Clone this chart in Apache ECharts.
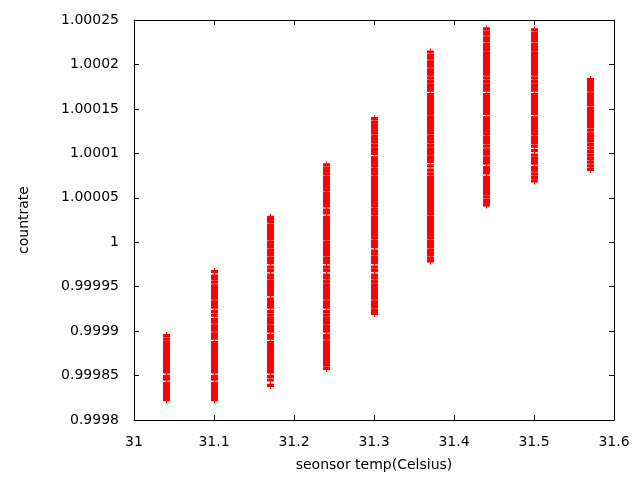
<!DOCTYPE html>
<html>
<head>
<meta charset="utf-8">
<script src="https://cdn.jsdelivr.net/npm/echarts@6/dist/echarts.min.js"></script>
<style>html,body{margin:0;padding:0;background:#fff}#c{width:640px;height:480px}</style>
</head>
<body>
<div id="c"></div>
<script>
// sensor temperatures (x positions of each column)
const temps = [31.04, 31.1, 31.17, 31.24, 31.3, 31.37, 31.44, 31.5, 31.57];

// countrate readings at each temperature
const rate3104 = [0.999823, 0.999826, 0.999829, 0.999832, 0.999835, 0.999838, 0.999841, 0.999846, 0.999849, 0.999854, 0.999857, 0.999860, 0.999863, 0.999866, 0.999869, 0.999872, 0.999875, 0.999878, 0.999881, 0.999884, 0.999887, 0.999891, 0.999895];
const rate3110 = [0.999823, 0.999826, 0.999829, 0.999832, 0.999835, 0.999838, 0.999841, 0.999846, 0.999849, 0.999854, 0.999857, 0.999860, 0.999863, 0.999866, 0.999869, 0.999872, 0.999875, 0.999878, 0.999881, 0.999884, 0.999887, 0.999892, 0.999895, 0.999897, 0.999901, 0.999904, 0.999906, 0.999910, 0.999913, 0.999918, 0.999922, 0.999927, 0.999930, 0.999933, 0.999937, 0.999940, 0.999943, 0.999946, 0.999949, 0.999951, 0.999955, 0.999959, 0.999962, 0.999967];
const rate3117 = [0.999839, 0.999845, 0.999849, 0.999854, 0.999857, 0.999860, 0.999863, 0.999866, 0.999869, 0.999872, 0.999875, 0.999878, 0.999881, 0.999884, 0.999887, 0.999892, 0.999895, 0.999900, 0.999903, 0.999905, 0.999909, 0.999911, 0.999914, 0.999918, 0.999922, 0.999927, 0.999930, 0.999933, 0.999936, 0.999941, 0.999944, 0.999947, 0.999950, 0.999953, 0.999956, 0.999960, 0.999963, 0.999968, 0.999972, 0.999977, 0.999980, 0.999982, 0.999986, 0.999989, 0.999991, 0.999995, 0.999998, 1.000000, 1.000004, 1.000007, 1.000010, 1.000013, 1.000016, 1.000019, 1.000023, 1.000025, 1.000028];
const rate3124 = [0.999858, 0.999862, 0.999865, 0.999868, 0.999871, 0.999874, 0.999877, 0.999880, 0.999883, 0.999886, 0.999888, 0.999892, 0.999895, 0.999900, 0.999903, 0.999905, 0.999909, 0.999911, 0.999914, 0.999918, 0.999922, 0.999927, 0.999930, 0.999933, 0.999937, 0.999940, 0.999943, 0.999946, 0.999949, 0.999952, 0.999956, 0.999960, 0.999963, 0.999968, 0.999972, 0.999977, 0.999980, 0.999982, 0.999986, 0.999989, 0.999992, 0.999995, 0.999998, 1.000000, 1.000004, 1.000007, 1.000010, 1.000013, 1.000016, 1.000019, 1.000022, 1.000025, 1.000028, 1.000033, 1.000036, 1.000041, 1.000044, 1.000047, 1.000050, 1.000053, 1.000055, 1.000059, 1.000062, 1.000065, 1.000068, 1.000071, 1.000073, 1.000077, 1.000080, 1.000083, 1.000087];
const rate3130 = [0.999920, 0.999923, 0.999927, 0.999930, 0.999933, 0.999937, 0.999940, 0.999943, 0.999946, 0.999949, 0.999952, 0.999956, 0.999960, 0.999963, 0.999968, 0.999972, 0.999977, 0.999980, 0.999983, 0.999987, 0.999990, 0.999995, 0.999998, 1.000001, 1.000005, 1.000008, 1.000011, 1.000014, 1.000017, 1.000020, 1.000023, 1.000026, 1.000028, 1.000032, 1.000035, 1.000037, 1.000041, 1.000044, 1.000047, 1.000050, 1.000053, 1.000056, 1.000059, 1.000062, 1.000065, 1.000068, 1.000071, 1.000073, 1.000077, 1.000080, 1.000082, 1.000086, 1.000089, 1.000092, 1.000095, 1.000100, 1.000103, 1.000105, 1.000109, 1.000113, 1.000116, 1.000119, 1.000123, 1.000126, 1.000129, 1.000132, 1.000135, 1.000139];
const rate3137 = [0.999979, 0.999982, 0.999986, 0.999989, 0.999991, 0.999995, 0.999998, 1.000001, 1.000005, 1.000008, 1.000011, 1.000014, 1.000017, 1.000020, 1.000023, 1.000026, 1.000028, 1.000032, 1.000035, 1.000038, 1.000041, 1.000044, 1.000047, 1.000050, 1.000053, 1.000056, 1.000059, 1.000062, 1.000065, 1.000068, 1.000071, 1.000073, 1.000077, 1.000081, 1.000086, 1.000091, 1.000094, 1.000096, 1.000100, 1.000103, 1.000105, 1.000109, 1.000113, 1.000116, 1.000119, 1.000123, 1.000126, 1.000129, 1.000132, 1.000135, 1.000138, 1.000141, 1.000145, 1.000148, 1.000151, 1.000154, 1.000157, 1.000160, 1.000163, 1.000166, 1.000171, 1.000174, 1.000177, 1.000181, 1.000185, 1.000189, 1.000192, 1.000194, 1.000198, 1.000201, 1.000203, 1.000207, 1.000210, 1.000214];
const rate3144 = [1.000042, 1.000045, 1.000047, 1.000051, 1.000055, 1.000058, 1.000061, 1.000064, 1.000067, 1.000070, 1.000073, 1.000078, 1.000081, 1.000084, 1.000089, 1.000092, 1.000095, 1.000099, 1.000102, 1.000104, 1.000108, 1.000112, 1.000115, 1.000118, 1.000122, 1.000125, 1.000128, 1.000131, 1.000134, 1.000137, 1.000140, 1.000145, 1.000148, 1.000151, 1.000154, 1.000157, 1.000160, 1.000163, 1.000166, 1.000171, 1.000174, 1.000177, 1.000181, 1.000185, 1.000189, 1.000192, 1.000195, 1.000198, 1.000201, 1.000204, 1.000207, 1.000210, 1.000213, 1.000217, 1.000220, 1.000223, 1.000227, 1.000230, 1.000234, 1.000236, 1.000240];
const rate3150 = [1.000069, 1.000073, 1.000077, 1.000081, 1.000084, 1.000089, 1.000092, 1.000094, 1.000098, 1.000103, 1.000108, 1.000112, 1.000115, 1.000118, 1.000122, 1.000125, 1.000128, 1.000131, 1.000134, 1.000137, 1.000140, 1.000145, 1.000148, 1.000151, 1.000154, 1.000157, 1.000160, 1.000163, 1.000166, 1.000171, 1.000174, 1.000177, 1.000181, 1.000185, 1.000189, 1.000192, 1.000195, 1.000198, 1.000201, 1.000204, 1.000207, 1.000210, 1.000213, 1.000217, 1.000220, 1.000223, 1.000227, 1.000230, 1.000233, 1.000235, 1.000239];
const rate3157 = [1.000082, 1.000086, 1.000090, 1.000094, 1.000098, 1.000102, 1.000106, 1.000110, 1.000114, 1.000117, 1.000119, 1.000122, 1.000126, 1.000130, 1.000133, 1.000136, 1.000139, 1.000142, 1.000145, 1.000148, 1.000151, 1.000155, 1.000158, 1.000161, 1.000164, 1.000167, 1.000171, 1.000174, 1.000177, 1.000180, 1.000183];

const rates = [rate3104, rate3110, rate3117, rate3124, rate3130, rate3137, rate3144, rate3150, rate3157];

// axis ranges
const xMin = 31, xMax = 31.6, xStep = 0.1;
const yMin = 0.9998, yMax = 1.00025, yStep = 0.00005;

const points = [];
temps.forEach((t, i) => rates[i].forEach(v => points.push([t, v])));

const FONT = 'DejaVu Sans';
const txt = { color: '#000', fontFamily: FONT, fontSize: 14 };
const plus = 'path://M0,1.9H7V5.1H0Z M3,0H4V7H3Z';

const chart = echarts.init(document.getElementById('c'), null, { renderer: 'canvas' });
chart.setOption({
  animation: false,
  backgroundColor: '#fff',
  grid: { left: 134, right: 26, top: 20, bottom: 60, containLabel: false },
  xAxis: [{
    type: 'value', min: xMin, max: xMax, interval: xStep, position: 'bottom',
    name: 'seonsor temp(Celsius)', nameLocation: 'middle', nameGap: 38,
    nameTextStyle: txt,
    axisLine: { show: true, lineStyle: { color: '#000', width: 1 } },
    axisTick: { show: true, inside: true, length: 5, lineStyle: { color: '#000' } },
    axisLabel: Object.assign({ margin: 15, formatter: v => String(parseFloat(v.toFixed(2))) }, txt),
    splitLine: { show: false }
  }, {
    type: 'value', min: xMin, max: xMax, interval: xStep, position: 'top',
    axisLine: { show: true, lineStyle: { color: '#000', width: 1 } },
    axisTick: { show: true, inside: true, length: 5, lineStyle: { color: '#000' } },
    axisLabel: { show: false }, splitLine: { show: false }
  }],
  yAxis: [{
    type: 'value', min: yMin, max: yMax, interval: yStep, position: 'left',
    name: 'countrate', nameLocation: 'middle', nameGap: 103, nameRotate: 90,
    nameTextStyle: txt,
    axisLine: { show: true, lineStyle: { color: '#000', width: 1 } },
    axisTick: { show: true, inside: true, length: 5, lineStyle: { color: '#000' } },
    axisLabel: Object.assign({ margin: 15, formatter: v => String(parseFloat(v.toFixed(5))) }, txt),
    splitLine: { show: false }
  }, {
    type: 'value', min: yMin, max: yMax, interval: yStep, position: 'right',
    axisLine: { show: true, lineStyle: { color: '#000', width: 1 } },
    axisTick: { show: true, inside: true, length: 5, lineStyle: { color: '#000' } },
    axisLabel: { show: false }, splitLine: { show: false }
  }],
  series: [{
    type: 'scatter', xAxisIndex: 0, yAxisIndex: 0,
    data: points,
    symbol: plus, symbolSize: 7, symbolOffset: [0.5, 0],
    itemStyle: { color: '#ff0000', opacity: 1 },
    silent: true
  }]
});
</script>
</body>
</html>
